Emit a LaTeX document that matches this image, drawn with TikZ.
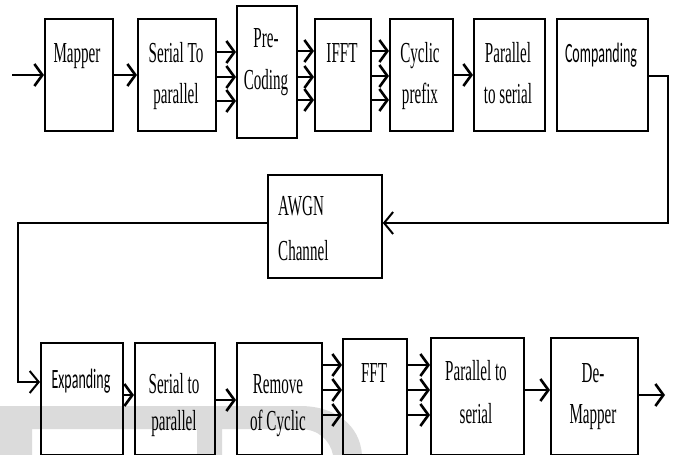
\documentclass[tikz,border=0pt]{standalone}
\usepackage{fontspec}
\usetikzlibrary{arrows.meta}
\newfontfamily\tnrfont[FakeStretch=0.52]{Liberation Serif}
\newfontfamily\carfont[FakeStretch=0.5]{Carlito}
\tikzset{
  box/.style={draw, line width=1.8pt, rectangle, inner sep=0pt, anchor=north west},
  txt/.style={inner sep=0pt, anchor=base, font=\fontsize{29}{40}\selectfont\tnrfont},
  sanstxt/.style={inner sep=0pt, anchor=base, font=\fontsize{28}{40}\selectfont\carfont},
  conn/.style={line width=2.6pt, -{Straight Barb[length=8pt,width=22pt]}},
  wire/.style={line width=2pt},
  wirearrow/.style={line width=2pt, -{Straight Barb[length=9pt,width=22pt]}},
  wm/.style={fill=black!14, draw=none}
}
\begin{document}
\begin{tikzpicture}[x=1pt,y=-1pt]
\useasboundingbox (0,0) rectangle (673,455);
% watermark
\fill[wm] (0,406) -- (300,406) .. controls (335,406) and (360,425) .. (362,455)
  -- (333,455) .. controls (330,440) and (318,429) .. (300,429)
  -- (222,429) -- (222,455) -- (197,455) -- (197,429) -- (32,429) -- (32,455) -- (0,455) -- cycle;
% row 1 boxes
\node[box, minimum width=68pt, minimum height=112pt] (map) at (44,18) {};
\node[box, minimum width=78pt, minimum height=112pt] (s2p) at (137,18) {};
\node[box, minimum width=60pt, minimum height=132pt] (pre) at (236,5) {};
\node[box, minimum width=56pt, minimum height=112pt] (ifft) at (314,18) {};
\node[box, minimum width=63pt, minimum height=112pt] (cp) at (389,18) {};
\node[box, minimum width=71pt, minimum height=112pt] (p2s) at (473,18) {};
\node[box, minimum width=91pt, minimum height=112pt] (comp) at (556,18) {};
% middle
\node[box, minimum width=114pt, minimum height=103pt] (awgn) at (267,174) {};
% row 3 boxes
\node[box, minimum width=82pt, minimum height=112pt] (exp) at (40,342) {};
\node[box, minimum width=80pt, minimum height=112pt] (s2pr) at (134,342) {};
\node[box, minimum width=85pt, minimum height=112pt] (rem) at (236,342) {};
\node[box, minimum width=64pt, minimum height=116pt] (fft) at (342,338) {};
\node[box, minimum width=93pt, minimum height=117pt] (p2sr) at (430,337) {};
\node[box, minimum width=87pt, minimum height=117pt] (dem) at (550,337) {};
% texts
\node[txt] (mapT) at (77,63) {Mapper};
\node[txt] (s2pT) at (176,63) {\begin{tabular}[t]{@{}c@{}}Serial To\\parallel\end{tabular}};
\node[txt] (preT) at (266,47) {\begin{tabular}[t]{@{}c@{}}Pre-\\[3pt]Coding\end{tabular}};
\node[txt] (ifftT) at (342,63) {IFFT};
\node[txt] (cpT) at (420,63) {\begin{tabular}[t]{@{}c@{}}Cyclic\\prefix\end{tabular}};
\node[txt] (p2sT) at (508,63) {\begin{tabular}[t]{@{}c@{}}Parallel\\to serial\end{tabular}};
\node[sanstxt] (compT) at (601,63) {Companding};
\node[txt, anchor=base west] (awgnT) at (278,215) {\begin{tabular}[t]{@{}l@{}}AWGN\\[5pt]Channel\end{tabular}};
\node[sanstxt] (expT) at (81,388) {Expanding};
\node[txt] (s2prT) at (174,393) {\begin{tabular}[t]{@{}c@{}}Serial to\\[-3pt]parallel\end{tabular}};
\node[txt] (remT) at (278,393) {\begin{tabular}[t]{@{}c@{}}Remove\\[-3pt]of Cyclic\end{tabular}};
\node[txt] (fftT) at (374,382) {FFT};
\node[txt] (p2srT) at (476,380) {\begin{tabular}[t]{@{}c@{}}Parallel to\\[3pt]serial\end{tabular}};
\node[txt] (demT) at (593,382) {\begin{tabular}[t]{@{}c@{}}De-\\[1pt]Mapper\end{tabular}};
% connectors row 1
\coordinate (in) at (12,75);
\draw[conn] (in) -- (map.west |- in);
\draw[conn] (map.east |- 0,75) -- (s2p.west |- 0,75);
\foreach \yy in {52,77,101} \draw[conn] (s2p.east |- 0,\yy) -- (pre.west |- 0,\yy);
\foreach \yy in {51,77,100} \draw[conn] (pre.east |- 0,\yy) -- (ifft.west |- 0,\yy);
\foreach \yy in {51,76,100} \draw[conn] (ifft.east |- 0,\yy) -- (cp.west |- 0,\yy);
\draw[conn] (cp.east |- 0,75) -- (p2s.west |- 0,75);
% loop
\coordinate (c1) at (668,76);
\coordinate (c2) at (668,223);
\coordinate (c3) at (18,223);
\coordinate (c4) at (18,382);
\draw[wirearrow] (comp.east |- c1) -- (c1) -- (c2) -- (awgn.east |- c2);
\draw[wirearrow] (awgn.west |- c3) -- (c3) -- (c4) -- (exp.west |- c4);
% connectors row 3
\draw[conn] (exp.east |- 0,395) -- (s2pr.west |- 0,395);
\draw[conn] (s2pr.east |- 0,400) -- (rem.west |- 0,400);
\foreach \yy in {365,390,415} \draw[conn] (rem.east |- 0,\yy) -- (fft.west |- 0,\yy);
\foreach \yy in {365,390,415} \draw[conn] (fft.east |- 0,\yy) -- (p2sr.west |- 0,\yy);
\draw[conn] (p2sr.east |- 0,390) -- (dem.west |- 0,390);
\coordinate (out) at (665,395);
\draw[conn] (dem.east |- out) -- (out);
\end{tikzpicture}
\end{document}
